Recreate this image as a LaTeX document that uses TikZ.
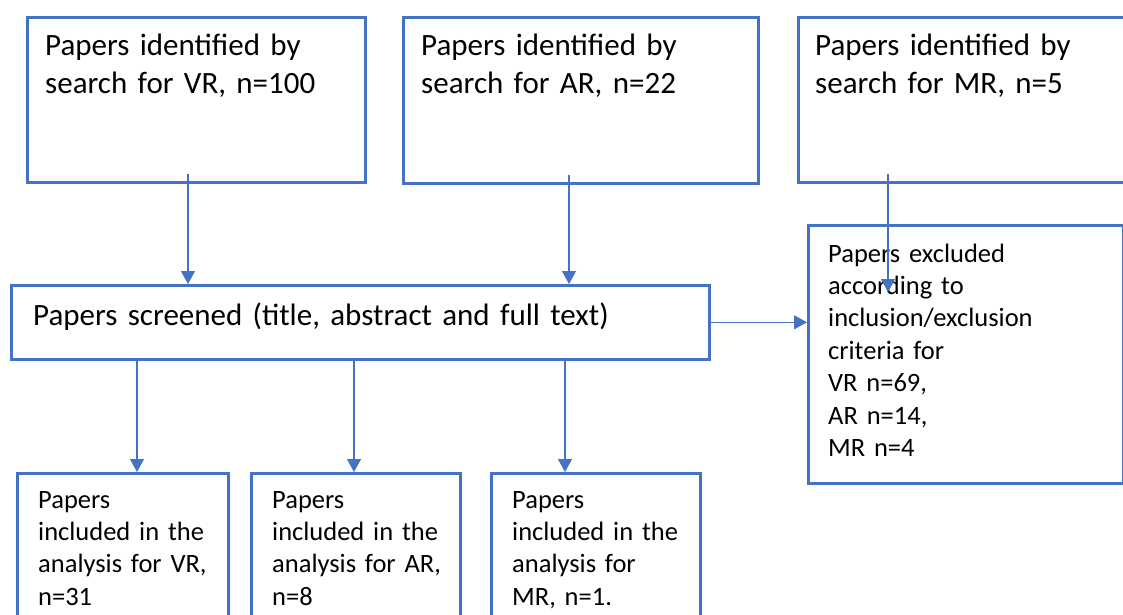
\documentclass[tikz,border=0pt]{standalone}
\usepackage{fontspec}
\setmainfont{Carlito}
\usepackage{tikz}
\usetikzlibrary{arrows.meta,calc}

\definecolor{linkblue}{HTML}{4472C4}

\begin{document}
\begin{tikzpicture}[x=1pt,y=-1pt,
    box/.style={draw=linkblue, line width=2.6pt, inner sep=0pt, anchor=north west},
    bigtxt/.style={anchor=base west, inner sep=0pt, align=left, text width=330pt,
        font=\fontsize{31}{38}\selectfont},
    smalltxt/.style={anchor=base west, inner sep=0pt, align=left, text width=280pt,
        font=\fontsize{26.5}{32.4}\selectfont},
    arr/.style={draw=linkblue, line width=1.2pt, -{Triangle[width=14pt,length=13pt]}}]
    \clip (0,0) rectangle (1123,614);

    % search boxes
    \node[box, minimum width=338pt, minimum height=165pt] (vr) at (26,16) {};
    \node[box, minimum width=355pt, minimum height=166pt] (ar) at (402,16) {};
    \node[box, minimum width=343pt, minimum height=165pt] (mr) at (797,16) {};
    \node[bigtxt] (vrtxt) at (45,55) {Papers identified by\\search for VR, n=100};
    \node[bigtxt] (artxt) at (421,55) {Papers identified by\\search for AR, n=22};
    \node[bigtxt] (mrtxt) at (815,55) {Papers identified by\\search for MR, n=5};

    % screening and exclusion
    \node[box, minimum width=698pt, minimum height=74pt] (scr) at (10,284) {};
    \node[bigtxt, text width=680pt] (scrtxt) at (33,325) {Papers screened (title, abstract and full text)};
    \node[box, minimum width=315pt, minimum height=258pt] (excl) at (807,224) {};
    \node[smalltxt] (excltxt) at (828,262) {Papers excluded\\according to\\inclusion/exclusion\\criteria for\\VR n=69,\\AR n=14,\\MR n=4};

    % included papers
    \node[box, minimum width=211pt, minimum height=168pt] (incvr) at (16,472) {};
    \node[box, minimum width=209pt, minimum height=168pt] (incar) at (250,472) {};
    \node[box, minimum width=209pt, minimum height=168pt] (incmr) at (490,472) {};
    \node[smalltxt] (incvrtxt) at (38,508) {Papers\\included in the\\analysis for VR,\\n=31};
    \node[smalltxt] (incartxt) at (272,508) {Papers\\included in the\\analysis for AR,\\n=8};
    \node[smalltxt] (incmrtxt) at (512,508) {Papers\\included in the\\analysis for\\MR, n=1.};

    % arrows
    \coordinate (mrend) at (888,292);
    \draw[arr] ($(188,0 |- vr.south)+(0,-10)$) -- (188,0 |- scr.north);
    \draw[arr] ($(569,0 |- ar.south)+(0,-10)$) -- (569,0 |- scr.north);
    \draw[arr] ($(888,0 |- mr.south)+(0,-10)$) -- (mrend);
    \draw[arr] (scr.east) -- (scr.east -| excl.west);
    \draw[arr] (137,0 |- scr.south) -- (137,0 |- incvr.north);
    \draw[arr] (354,0 |- scr.south) -- (354,0 |- incar.north);
    \draw[arr] (565,0 |- scr.south) -- (565,0 |- incmr.north);
\end{tikzpicture}
\end{document}
